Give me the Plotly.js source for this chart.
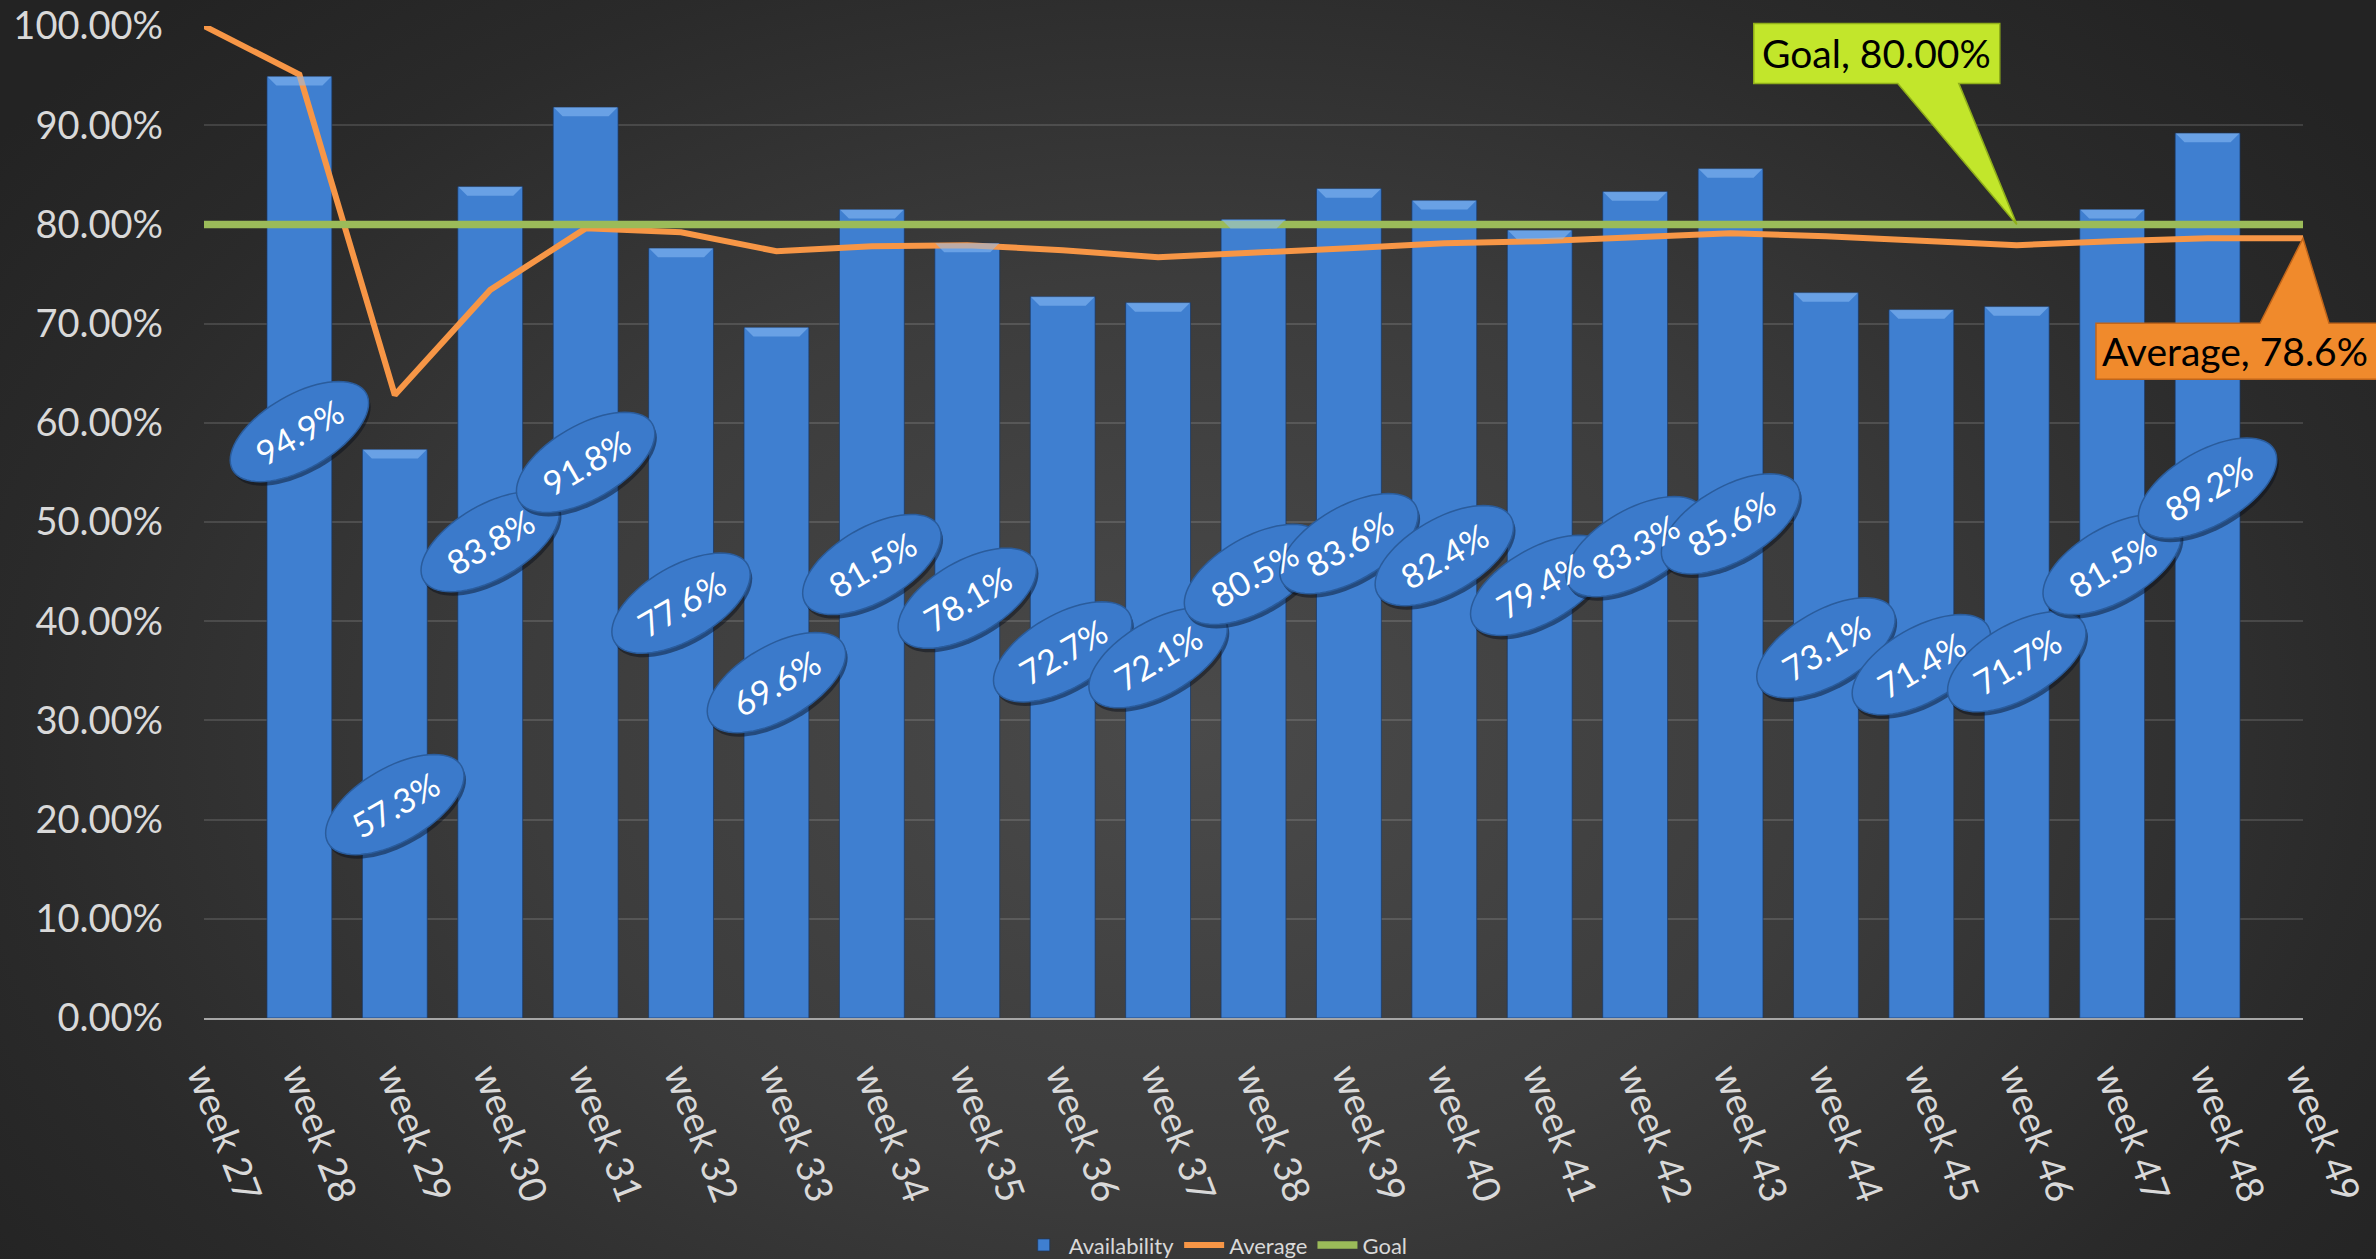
<!DOCTYPE html>
<html>
<head>
<meta charset="utf-8">
<script src="https://cdn.plot.ly/plotly-3.0.1.min.js"></script>
<style>
  html, body { margin: 0; padding: 0; width: 2376px; height: 1259px; overflow: hidden; }
  body { background: radial-gradient(ellipse 62% 80% at 50% 58%, #4a4a4a 0%, #3c3c3c 45%, #2a2a2a 80%, #232323 100%); }
  #chart { width: 2376px; height: 1259px; }
</style>
</head>
<body>
<div id="chart"></div>
<script>
// ---- data ----
const weeks = ["week 27","week 28","week 29","week 30","week 31","week 32","week 33","week 34",
  "week 35","week 36","week 37","week 38","week 39","week 40","week 41","week 42","week 43",
  "week 44","week 45","week 46","week 47","week 48","week 49"];
const barWeeks = ["week 28","week 29","week 30","week 31","week 32","week 33","week 34","week 35",
  "week 36","week 37","week 38","week 39","week 40","week 41","week 42","week 43","week 44",
  "week 45","week 46","week 47","week 48"];
const availability = [94.9,57.3,83.8,91.8,77.6,69.6,81.5,78.1,72.7,72.1,80.5,83.6,82.4,79.4,83.3,85.6,73.1,71.4,71.7,81.5,89.2];
const average = [100.0,95.1,62.8,73.4,79.6,79.2,77.3,77.8,77.9,77.4,76.7,77.1,77.6,78.1,78.3,78.7,79.1,78.8,78.4,77.9,78.3,78.6,78.6];
const goal = [80,80,80,80,80,80,80,80,80,80,80,80,80,80,80,80,80,80,80,80,80,80,80];
const goalLabel = "Goal, 80.00%";
const avgLabel = "Average, 78.6%";
const goalCalloutWeek = "week 46";

// ---- style ----
const FONT = "Lato, 'Open Sans', sans-serif";
const BAR = "#3f7fd0";
const ORANGE = "#f79646";
const GREEN = "#9bbb59";

function ellipsePath(cx, cy, a, b, angDeg, n) {
  const th = angDeg * Math.PI / 180;
  let p = "";
  for (let i = 0; i < n; i++) {
    const t = 2 * Math.PI * i / n;
    const x = cx + a * Math.cos(th) * Math.cos(t) - b * Math.sin(th) * Math.sin(t);
    const y = cy + a * Math.sin(th) * Math.cos(t) + b * Math.cos(th) * Math.sin(t);
    p += (i === 0 ? "M" : "L") + x.toFixed(2) + "," + y.toFixed(2);
  }
  return p + "Z";
}

const LABEL_DROP = 355;   // pixels below the bar top
const shapes = [];
const annotations = [];

// bevel highlight on top of each bar (translucent so lines stay visible)
barWeeks.forEach((w, i) => {
  shapes.push({
    type: "path", xref: "x", yref: "y", xsizemode: "pixel", ysizemode: "pixel",
    xanchor: w, yanchor: availability[i],
    path: "M-32,0L32,0L23,-9L-23,-9Z",
    fillcolor: "rgba(140,190,245,0.55)", line: { width: 0 }, layer: "above"
  });
});

barWeeks.forEach((w, i) => {
  shapes.push({
    type: "path", xref: "x", yref: "y", xsizemode: "pixel", ysizemode: "pixel",
    xanchor: w, yanchor: availability[i],
    path: ellipsePath(2, -LABEL_DROP - 4, 77, 37, 30, 72),
    fillcolor: "rgba(5,12,25,0.45)", line: { width: 0 }, layer: "above"
  });
  shapes.push({
    type: "path", xref: "x", yref: "y", xsizemode: "pixel", ysizemode: "pixel",
    xanchor: w, yanchor: availability[i],
    path: ellipsePath(0, -LABEL_DROP, 77, 37, 30, 72),
    fillcolor: "#3b7acb", line: { color: "#2a5c9c", width: 1.5 }, layer: "above"
  });
  annotations.push({
    x: w, y: availability[i], xref: "x", yref: "y", yshift: -LABEL_DROP,
    text: availability[i].toFixed(1) + "%", showarrow: false, textangle: -30,
    font: { family: FONT, size: 34, color: "#ffffff" },
    xanchor: "center", yanchor: "middle"
  });
});

// Goal callout (box + wedge pointing at the goal line)
shapes.push({
  type: "path", xref: "x", yref: "paper", xsizemode: "pixel", ysizemode: "pixel",
  xanchor: goalCalloutWeek, yanchor: goal[0] / 100,
  path: "M-263,201L-17,201L-17,141L-58,141L0,0L-119,141L-263,141Z",
  fillcolor: "#c2e62b", line: { color: "#8fae1a", width: 1.5 }, layer: "above"
});
annotations.push({
  x: goalCalloutWeek, y: goal[0] / 100, xref: "x", yref: "paper", xshift: -140, yshift: 171,
  text: goalLabel, showarrow: false, font: { family: FONT, size: 39, color: "#000000" },
  xanchor: "center", yanchor: "middle"
});

// Average callout (box + wedge pointing at last average point)
const lastAvg = average[average.length - 1];
shapes.push({
  type: "path", xref: "paper", yref: "y", xsizemode: "pixel", ysizemode: "pixel",
  xanchor: 1, yanchor: lastAvg,
  path: "M-207,-85L-43,-85L0,0L26,-85L80,-85L80,-141L-207,-141Z",
  fillcolor: "#f08a2c", line: { color: "#c0651a", width: 1.5 }, layer: "above"
});
annotations.push({
  x: 1, y: lastAvg, xref: "paper", yref: "y", xshift: -68, yshift: -113,
  text: avgLabel, showarrow: false, font: { family: FONT, size: 39, color: "#000000" },
  xanchor: "center", yanchor: "middle"
});

const traces = [
  {
    type: "bar", name: "Availability", x: barWeeks, y: availability, width: 0.68,
    marker: { color: BAR, line: { color: "rgba(25,55,100,0.7)", width: 1 } },
    hoverinfo: "x+y"
  },
  {
    type: "scatter", mode: "lines", name: "Average", x: weeks, y: average,
    line: { color: ORANGE, width: 6 }
  },
  {
    type: "scatter", mode: "lines", name: "Goal", x: weeks, y: goal,
    line: { color: GREEN, width: 7.5 }
  }
];

const layout = {
  width: 2376, height: 1259,
  margin: { l: 204, r: 73, t: 26, b: 241, pad: 0, autoexpand: false },
  paper_bgcolor: "rgba(0,0,0,0)", plot_bgcolor: "rgba(0,0,0,0)",
  font: { family: FONT, color: "#d9d9d9" },
  showlegend: true,
  legend: {
    orientation: "h", x: 0.482, xanchor: "center", y: -0.229, yanchor: "middle",
    font: { family: FONT, size: 22, color: "#d9d9d9" }, bgcolor: "rgba(0,0,0,0)",
    itemwidth: 40, traceorder: "normal"
  },
  xaxis: {
    type: "category", categoryorder: "array", categoryarray: weeks,
    range: [0, weeks.length - 1], autorange: false, automargin: false,
    tickangle: 69, tickfont: { family: FONT, size: 38, color: "#d9d9d9" },
    showgrid: false, zeroline: false,
    showline: true, linecolor: "#a6a6a6", linewidth: 2,
    ticks: "", ticklabelstandoff: 18
  },
  yaxis: {
    range: [0, 100], autorange: false, dtick: 10, tickformat: ".2f", ticksuffix: "%",
    automargin: false,
    tickfont: { family: FONT, size: 38, color: "#d9d9d9" },
    showgrid: true, gridcolor: "rgba(255,255,255,0.13)", gridwidth: 2,
    zeroline: false, showline: false, ticks: "", ticklabelstandoff: 40
  },
  bargap: 0.32,
  shapes: shapes,
  annotations: annotations
};

Plotly.newPlot("chart", traces, layout, { displayModeBar: false, staticPlot: true });
</script>
</body>
</html>
